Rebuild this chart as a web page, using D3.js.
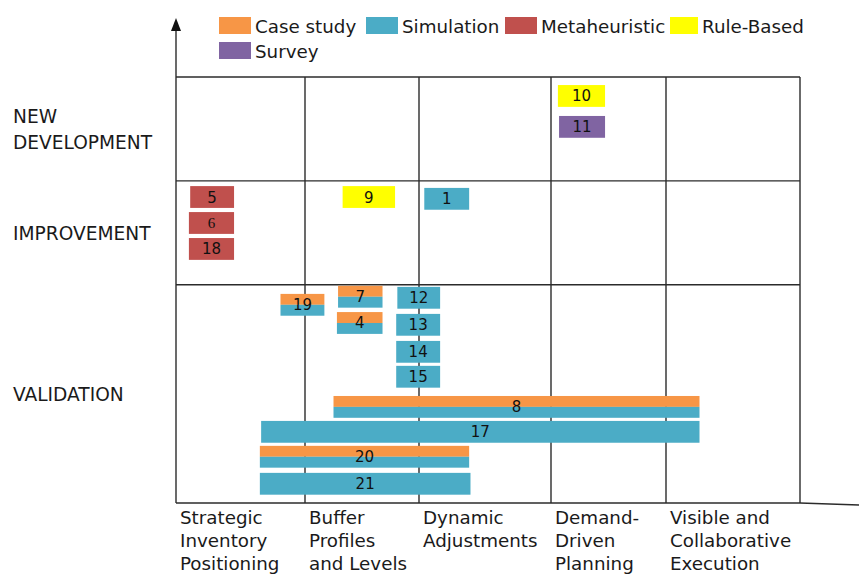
<!DOCTYPE html>
<html>
<head>
<meta charset="utf-8">
<script src="https://cdn.jsdelivr.net/npm/d3@7"></script>
<style>
  html, body { margin: 0; padding: 0; background: #fff; }
  svg { display: block; font-family: "DejaVu Sans", Verdana, sans-serif; }
  .grid line { stroke: #2b2b2b; stroke-width: 1.4; }
  .row-label { font-size: 18.6px; fill: #1a1a1a; }
  .col-label, .legend-text { font-size: 18.3px; fill: #1a1a1a; }
  .bar-label { font-size: 15px; fill: #111; }
</style>
</head>
<body>
<div id="chart"></div>
<script>
// 欄（X 軸類別）、列（Y 軸研究類型）、方法圖例
const categories = [
  ["Strategic", "Inventory", "Positioning"],
  ["Buffer", "Profiles", "and Levels"],
  ["Dynamic", "Adjustments"],
  ["Demand-", "Driven", "Planning"],
  ["Visible and", "Collaborative", "Execution"]
];
const rows = [["NEW", "DEVELOPMENT"], ["IMPROVEMENT"], ["VALIDATION"]];
const rowSpan = [[0, 4], [4, 8], [8, 16.4]];   // 列範圍（槽位單位）
const methods = ["Case study", "Simulation", "Metaheuristic", "Rule-Based", "Survey"];
const methodColors = ["#F79646", "#4BACC6", "#C0504D", "#FFFF00", "#8064A2"];

// 每篇研究：編號、方法、起訖欄位（欄單位）、槽位
const studyIds     = ["10", "11", "5", "6", "18", "9", "1", "7", "19", "4", "12", "13", "14", "15", "8", "17", "20", "21"];
const studyMethods = [
  ["Rule-Based"], ["Survey"],
  ["Metaheuristic"], ["Metaheuristic"], ["Metaheuristic"],
  ["Rule-Based"], ["Simulation"],
  ["Case study", "Simulation"], ["Case study", "Simulation"], ["Case study", "Simulation"],
  ["Simulation"], ["Simulation"], ["Simulation"], ["Simulation"],
  ["Case study", "Simulation"], ["Simulation"],
  ["Case study", "Simulation"], ["Simulation"]
];
const studyStart = [3.06, 3.07, 0.11, 0.10, 0.10, 1.33, 2.04, 1.29, 0.81, 1.28, 1.81, 1.80, 1.80, 1.80, 1.25, 0.66, 0.65, 0.65];
const studyEnd   = [3.47, 3.47, 0.45, 0.45, 0.45, 1.79, 2.38, 1.68, 1.17, 1.68, 2.16, 2.16, 2.16, 2.16, 4.25, 4.25, 2.38, 2.39];
const studySlot  = [0.31, 1.50, 4.20, 5.20, 6.20, 4.20, 4.27, 8.04, 8.35, 9.05, 8.08, 9.12, 10.16, 11.12, 12.28, 13.24, 14.20, 15.24];

const W = 859, H = 574;
const BAR_H = 0.84;

const svg = d3.select("#chart").append("svg")
  .attr("width", W).attr("height", H)
  .attr("viewBox", `0 0 ${W} ${H}`);

// 欄界線寬度不一，用分段線性尺度
const x = d3.scaleLinear().domain([0, 1, 2, 3, 4, 5]).range([176, 305, 419, 551, 666, 800]);
const y = d3.scaleLinear().domain([0, 16.4]).range([77, 503]);
const color = d3.scaleOrdinal().domain(methods).range(methodColors);

// 格線
const grid = svg.append("g").attr("class", "grid");
d3.range(1, 6).forEach((c) => {
  grid.append("line").attr("x1", x(c)).attr("x2", x(c)).attr("y1", y(0)).attr("y2", y(16.4));
});
[0, 4, 8].forEach((s) => {
  grid.append("line").attr("x1", x(0)).attr("x2", x(5)).attr("y1", y(s)).attr("y2", y(s));
});
// 下方軸線（右端稍微延伸）
grid.append("line").attr("x1", x(0)).attr("x2", x(5)).attr("y1", y(16.4)).attr("y2", y(16.4));
grid.append("line").attr("x1", x(5)).attr("x2", W).attr("y1", y(16.4)).attr("y2", y(16.4) + 2);
// Y 軸箭頭
grid.append("line").attr("x1", x(0)).attr("x2", x(0)).attr("y1", y(16.4)).attr("y2", 28);
svg.append("path")
  .attr("d", `M${x(0)},18 L${x(0) - 5},31 L${x(0) + 5},31 Z`)
  .attr("fill", "#111");

// 列標籤
rows.forEach((lines, i) => {
  const mid = (y(rowSpan[i][0]) + y(rowSpan[i][1])) / 2;
  const t = svg.append("text").attr("class", "row-label").attr("x", 13);
  lines.forEach((ln, j) => {
    t.append("tspan")
      .attr("x", 13)
      .attr("y", mid + 7 + (j - (lines.length - 1) / 2) * 26)
      .text(ln);
  });
});

// 欄標籤
categories.forEach((lines, i) => {
  const t = svg.append("text").attr("class", "col-label");
  lines.forEach((ln, j) => {
    t.append("tspan").attr("x", x(i) + 4).attr("y", 524 + j * 23).text(ln);
  });
});

// 研究條
const studies = studyIds.map((id, i) => ({
  id, methods: studyMethods[i], x0: studyStart[i], x1: studyEnd[i], slot: studySlot[i]
}));

const bars = svg.append("g").selectAll("g").data(studies).enter().append("g");
bars.each(function (d) {
  const g = d3.select(this);
  const n = d.methods.length;
  const top = y(d.slot), h = y(d.slot + BAR_H) - y(d.slot);
  d.methods.forEach((m, k) => {
    g.append("rect")
      .attr("x", x(d.x0))
      .attr("y", top + (h * k) / n)
      .attr("width", x(d.x1) - x(d.x0))
      .attr("height", h / n)
      .attr("fill", color(m));
  });
  g.append("text")
    .attr("class", "bar-label")
    .attr("x", (x(d.x0) + x(d.x1)) / 2)
    .attr("y", top + h / 2 + 5.5)
    .attr("text-anchor", "middle")
    .style("font-family", d.id === "6" ? "'Liberation Serif', serif" : null)
    .text(d.id);
});

// 圖例（位置對照原圖）
const legendX = [219, 366, 505, 670, 219];
const legendRow = [0, 0, 0, 0, 1];
methods.forEach((m, i) => {
  const yy = 17 + legendRow[i] * 25;
  const sw = m === "Rule-Based" ? 28 : 32;
  svg.append("rect").attr("x", legendX[i]).attr("y", yy).attr("width", sw).attr("height", 17).attr("fill", color(m));
  svg.append("text").attr("class", "legend-text").attr("x", legendX[i] + sw + 4).attr("y", yy + 16).text(m);
});
</script>
</body>
</html>
